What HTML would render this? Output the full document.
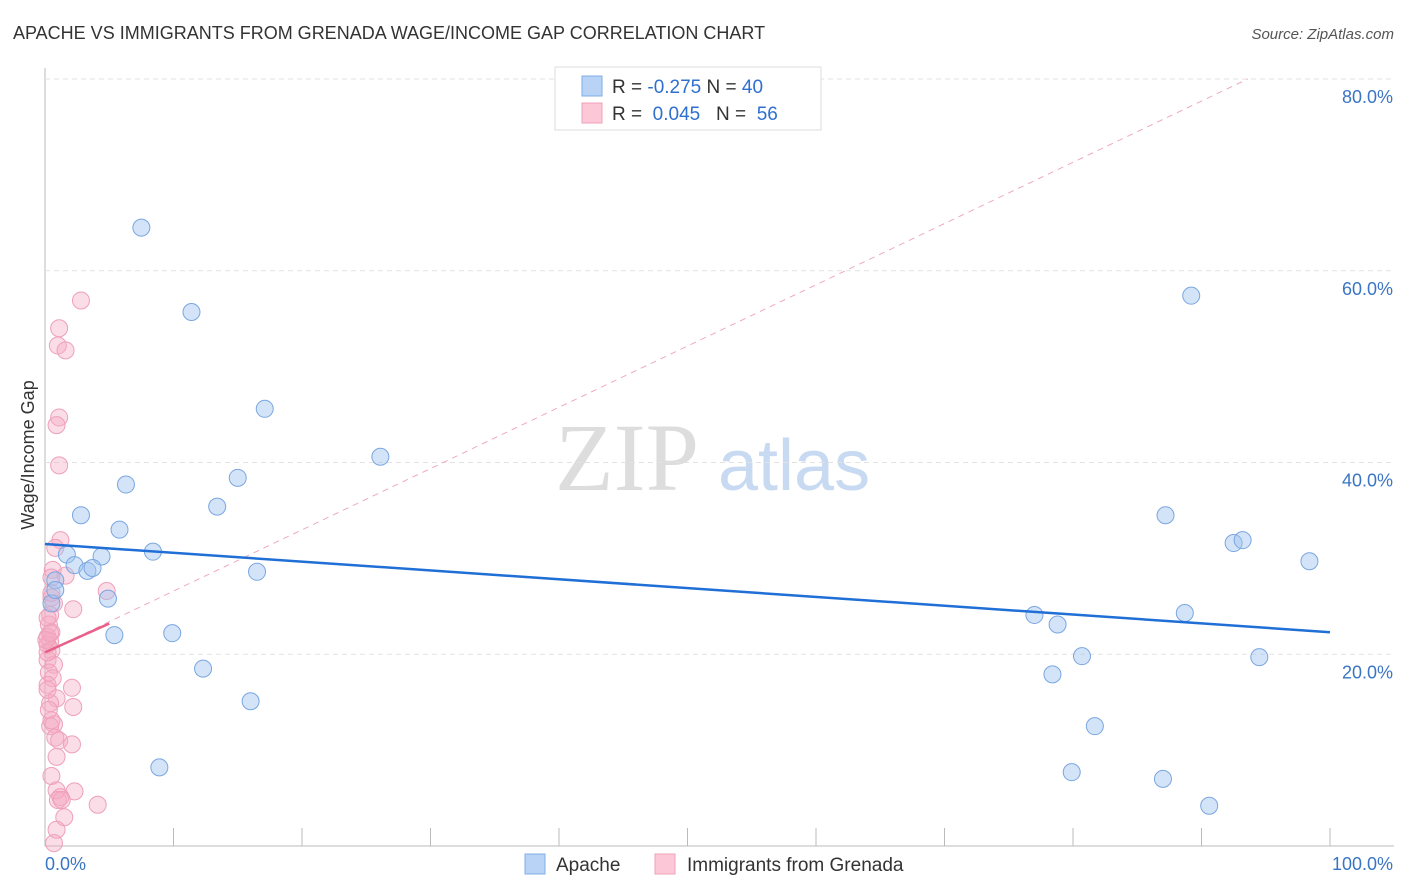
<!DOCTYPE html>
<html><head><meta charset="utf-8"><style>
body{margin:0;background:#fff;font-family:"Liberation Sans",sans-serif;}
svg{display:block}
</style></head><body>
<svg id="chart" width="1406" height="892">
<text x="13" y="39" font-size="18" fill="#333">APACHE VS IMMIGRANTS FROM GRENADA WAGE/INCOME GAP CORRELATION CHART</text>
<text x="1394" y="39" font-size="15" fill="#555" font-style="italic" text-anchor="end">Source: ZipAtlas.com</text>
<text x="555" y="490" font-size="96" fill="#ddd" font-family="Liberation Serif,serif">ZIP</text>
<text x="718" y="490" font-size="72" fill="#c8daf2">atlas</text>
<text transform="translate(34,455) rotate(-90)" font-size="18" fill="#333" text-anchor="middle">Wage/Income Gap</text>
<g id="grid"></g><g id="ticks"></g><g id="marks"></g>
<g>
<rect x="555" y="67" width="266" height="63" fill="#fff" stroke="#ddd"/>
<rect x="582" y="76" width="20" height="20" fill="#b8d3f5" stroke="#80aee6"/>
<rect x="582" y="103" width="20" height="20" fill="#fcc8d8" stroke="#f0a0ba"/>
<text x="612" y="93" font-size="19" fill="#333">R = <tspan fill="#2f6fce">-0.275</tspan>   N = <tspan fill="#2f6fce">40</tspan></text>
<text x="612" y="120" font-size="19" fill="#333" xml:space="preserve">R =  <tspan fill="#2f6fce">0.045</tspan>   N =  <tspan fill="#2f6fce">56</tspan></text>
</g>
<g>
<rect x="525" y="854" width="20" height="20" fill="#b8d3f5" stroke="#80aee6"/>
<text x="556" y="871" font-size="19" fill="#333">Apache</text>
<rect x="655" y="854" width="20" height="20" fill="#fcc8d8" stroke="#f0a0ba"/>
<text x="687" y="871" font-size="19" fill="#333">Immigrants from Grenada</text>
</g>
</svg>
<script>
const yTicks=[20,40,60,80];
const xTickLabels=["0.0%","100.0%"];
const apacheX=[7.5,11.4,17.1,26.1,6.3,15.0,13.4,2.8,5.8,1.7,4.4,8.4,2.3,3.3,3.7,16.5,0.8,4.9,0.5,5.4,9.9,12.3,16.0,8.9,89.2,87.2,92.5,93.2,98.4,77.0,78.8,88.7,80.7,78.4,94.5,81.7,79.9,87.0,90.6,0.8];
const apacheY=[64.5,55.7,45.6,40.6,37.7,38.4,35.4,34.5,33.0,30.4,30.2,30.7,29.3,28.7,29.0,28.6,27.7,25.8,25.3,22.0,22.2,18.5,15.1,8.2,57.4,34.5,31.6,31.9,29.7,24.1,23.1,24.3,19.8,17.9,19.7,12.5,7.7,7.0,4.2,26.7];
const grenX=[2.8,1.1,1.0,1.6,1.1,0.9,1.1,1.2,0.6,1.6,0.5,2.2,4.8,0.5,0.7,0.4,0.3,0.5,0.2,0.4,0.2,0.5,0.2,0.7,0.3,0.6,0.2,2.1,0.9,0.4,2.2,0.7,0.4,0.8,1.1,2.1,0.9,0.5,0.9,2.3,1.2,1.0,4.1,1.5,0.9,0.7,0.2,0.1,0.4,0.5,0.2,0.5,0.8,0.2,0.3,1.3];
const grenY=[56.9,54.0,52.2,51.7,44.7,43.9,39.7,31.9,28.8,28.2,28.0,24.7,26.6,25.9,25.3,24.1,23.1,22.3,21.8,21.3,21.0,20.4,19.4,18.9,18.1,17.5,16.8,16.5,15.4,14.9,14.5,12.7,12.5,11.3,11.0,10.6,9.3,7.3,5.8,5.7,5.1,4.8,4.3,3.0,1.7,0.3,20.2,21.5,22.2,13.1,16.3,26.4,31.1,23.8,14.2,4.8];
const apacheTrend=[31.5,22.3];
const grenTrend=[20.2,23.2,5];
const diag=[20.2,80,93.6];
const NS="http://www.w3.org/2000/svg";
const sx=v=>45+v*12.85, sy=v=>846-v*9.5875;
function mk(t,a,p){const e=document.createElementNS(NS,t);for(const k in a)e.setAttribute(k,a[k]);document.getElementById(p).appendChild(e);return e;}
mk("line",{x1:45,y1:68,x2:45,y2:846,stroke:"#bbb"},"grid");
mk("line",{x1:45,y1:846,x2:1394,y2:846,stroke:"#bbb"},"grid");
yTicks.forEach(t=>{
 const l=mk("line",{x1:45,y1:sy(t),x2:1394,y2:sy(t),stroke:"#e2e2e2","stroke-dasharray":"5,4"},"grid");
 
 
 const tx=mk("text",{x:1393,y:sy(t)+24,"font-size":18,fill:"#3a75c4","text-anchor":"end"},"ticks");
 tx.textContent=t.toFixed(1)+"%";
 
 
});
for(let i=1;i<=10;i++){const l=mk("line",{x1:sx(i*10),y1:828,x2:sx(i*10),y2:846,stroke:"#bbb"},"ticks");
 
 }
const xl0=mk("text",{x:45,y:870,"font-size":18,fill:"#3a75c4"},"ticks");xl0.textContent=xTickLabels[0];


const xl1=mk("text",{x:1393,y:870,"font-size":18,fill:"#3a75c4","text-anchor":"end"},"ticks");xl1.textContent=xTickLabels[1];


const d=mk("line",{x1:sx(0),y1:sy(diag[0]),x2:sx(diag[2]),y2:sy(diag[1]),stroke:"#eeaabd","stroke-dasharray":"6,5"},"marks");


grenX.forEach((x,i)=>{const c=mk("circle",{cx:sx(x),cy:sy(grenY[i]),r:8.5,fill:"rgba(246,170,196,0.4)",stroke:"#eea0ba","stroke-width":1},"marks");
 
 });
apacheX.forEach((x,i)=>{const c=mk("circle",{cx:sx(x),cy:sy(apacheY[i]),r:8.5,fill:"rgba(160,195,240,0.45)",stroke:"#7aa6e0","stroke-width":1},"marks");
 
 });
const bt=mk("line",{x1:sx(0),y1:sy(apacheTrend[0]),x2:sx(100),y2:sy(apacheTrend[1]),stroke:"#1f6fd6","stroke-width":2.5},"marks");


const pt=mk("line",{x1:sx(0),y1:sy(grenTrend[0]),x2:sx(grenTrend[2]),y2:sy(grenTrend[1]),stroke:"#e8608a","stroke-width":2.5},"marks");


</script>
</body></html>
